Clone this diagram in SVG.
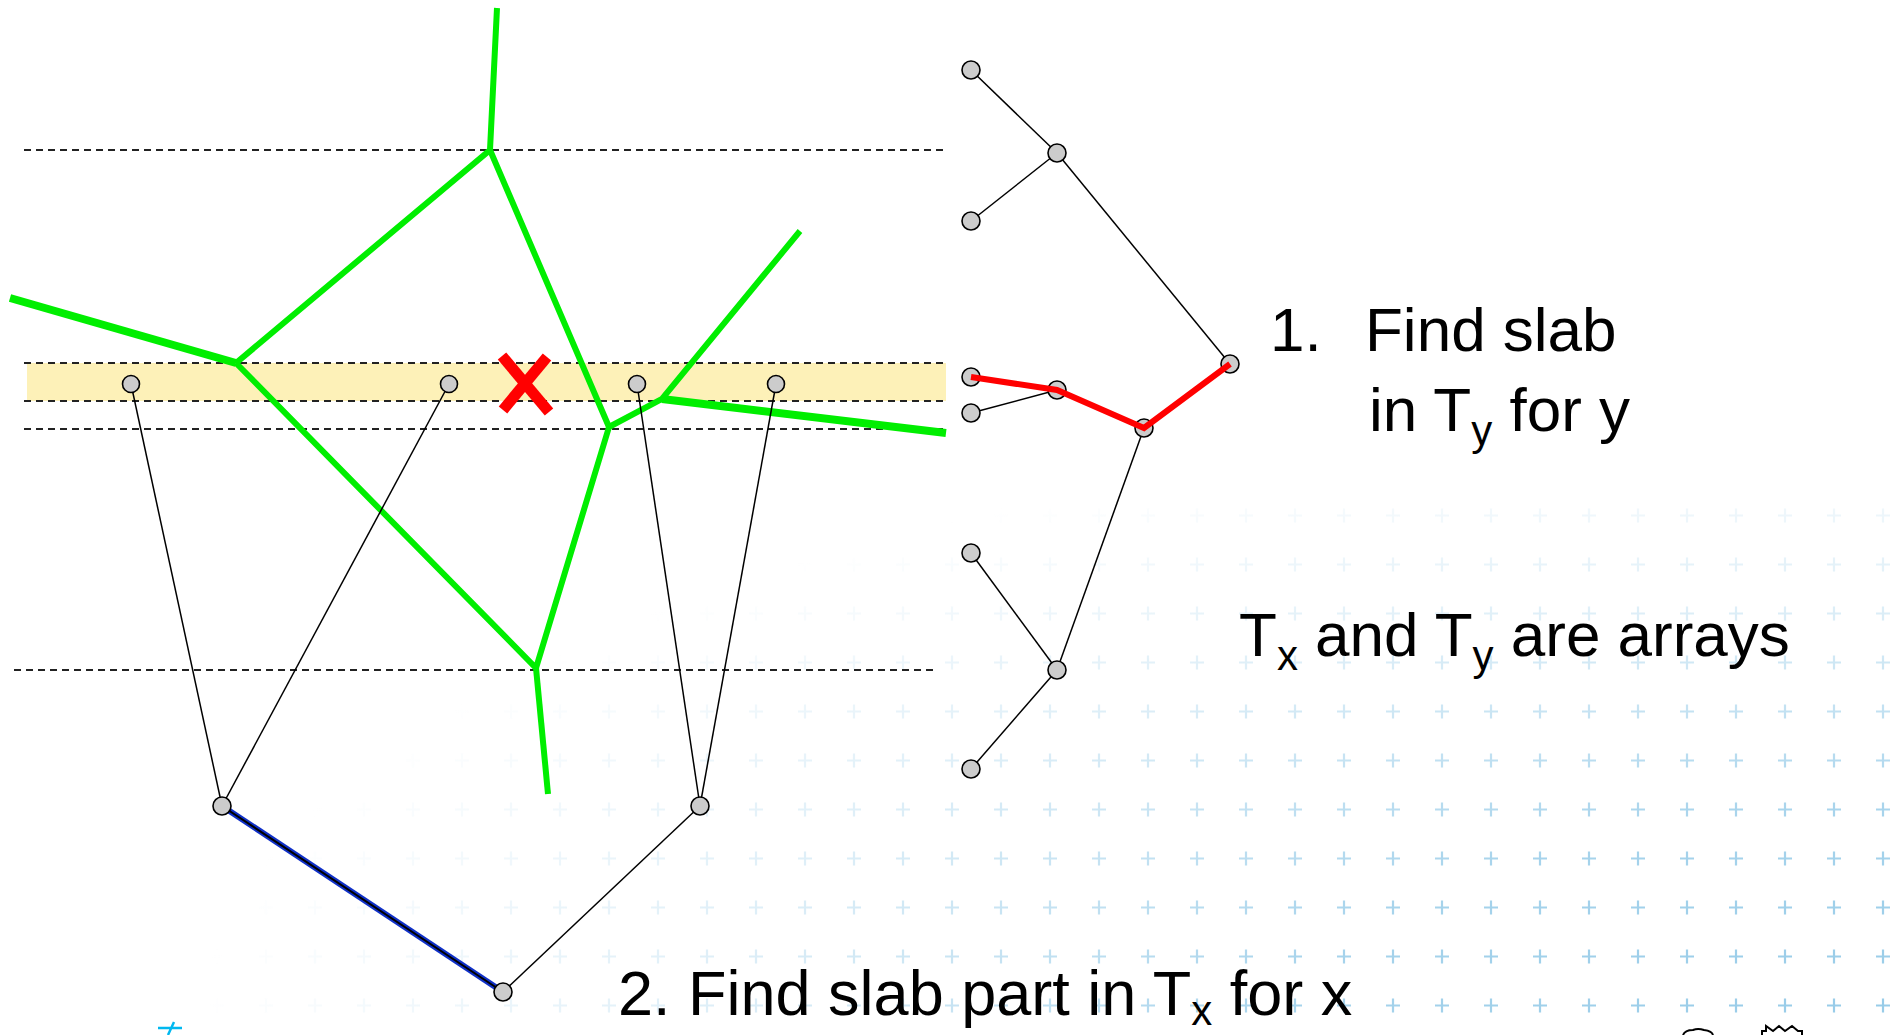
<svg xmlns="http://www.w3.org/2000/svg" width="1897" height="1035" viewBox="0 0 1897 1035">
  <style>
    .dash { stroke: #222; stroke-width: 2; stroke-dasharray: 7 5; fill: none; }
    .vor { stroke: #00ee00; stroke-width: 6; fill: none; stroke-linecap: butt; stroke-linejoin: miter; }
    .vor-thick { stroke: #00ee00; stroke-width: 8; fill: none; }
    .edge { stroke: #000; stroke-width: 1.5; fill: none; }
    .node { fill: #cccccc; stroke: #000; stroke-width: 1.6; }
    .label { font-family: "Liberation Sans", Arial, sans-serif; font-size: 62px; fill: #000; }
    .sub { font-size: 42px; }
  </style>
  <defs>
    <pattern id="plus" x="1589" y="1005.5" width="49" height="49" patternUnits="userSpaceOnUse">
      <path d="M-7 0 H7 M0 -7 V7 M42 0 H56 M49 -7 V7 M-7 49 H7 M0 42 V56 M42 49 H56 M49 42 V56" stroke="#96cbe8" stroke-width="2.2"/>
    </pattern>
    <radialGradient id="fade">
      <stop offset="0" stop-color="#fff"/>
      <stop offset="0.35" stop-color="#d8d8d8"/>
      <stop offset="0.7" stop-color="#505050"/>
      <stop offset="1" stop-color="#000"/>
    </radialGradient>
    <mask id="fadeMask" maskUnits="userSpaceOnUse" x="0" y="0" width="1897" height="1035">
      <ellipse cx="1897" cy="1035" rx="1700" ry="620" fill="url(#fade)"/>
    </mask>
  </defs>

  <rect width="1897" height="1035" fill="#fff"/>
  <g id="background">
    <rect x="0" y="480" width="1897" height="555" fill="url(#plus)" mask="url(#fadeMask)"/>
    <path d="M158 1028 H182 M174 1022 L168 1035" stroke="#00b8f0" stroke-width="2.5" fill="none"/>
    <path d="M1683 1035 Q1685 1030 1693 1030 Q1698 1028 1704 1030 Q1712 1031 1713 1035" stroke="#000" stroke-width="2" fill="none"/>
    <path d="M1762 1035 V1031 H1766 V1026 L1773 1031 L1779 1026 L1785 1031 L1792 1026 L1798 1031 H1802 V1035" stroke="#000" stroke-width="2" fill="none"/>
  </g>

  <g id="slab">
    <rect x="27" y="363" width="919" height="38" fill="#fdf1b8"/>
  </g>

  <g id="sweep-lines">
    <line class="dash" x1="24" y1="150" x2="943" y2="150"/>
    <line class="dash" x1="24" y1="363" x2="946" y2="363"/>
    <line class="dash" x1="24" y1="401" x2="946" y2="401"/>
    <line class="dash" x1="24" y1="429" x2="943" y2="429"/>
    <line class="dash" x1="14" y1="670" x2="934" y2="670"/>
  </g>

  <g id="voronoi">
    <polyline class="vor" points="497,8 490,150 236,363"/>
    <line class="vor-thick" x1="10" y1="298" x2="236" y2="363"/>
    <polyline class="vor" points="490,150 609,427 662,399 800,231"/>
    <line class="vor-thick" x1="662" y1="399" x2="946" y2="433"/>
    <polyline class="vor" points="236,363 536,668 609,427"/>
    <line class="vor" x1="536" y1="668" x2="548" y2="794"/>
  </g>

  <g id="query-point">
    <line x1="502" y1="356" x2="549" y2="412" stroke="#ff0000" stroke-width="11"/>
    <line x1="547" y1="357" x2="503" y2="410" stroke="#ff0000" stroke-width="11"/>
  </g>

  <g id="connectors">
    <line class="edge" x1="131" y1="384" x2="222" y2="806"/>
    <line class="edge" x1="449" y1="384" x2="222" y2="806"/>
    <line class="edge" x1="637" y1="384" x2="700" y2="806"/>
    <line class="edge" x1="776" y1="384" x2="700" y2="806"/>
    <line x1="222" y1="806" x2="503" y2="992" stroke="#1030c8" stroke-width="6"/>
    <line x1="222" y1="806" x2="503" y2="992" stroke="#000" stroke-width="2"/>
    <line class="edge" x1="700" y1="806" x2="503" y2="992"/>
    <line class="edge" x1="971" y1="70" x2="1057" y2="153"/>
    <line class="edge" x1="971" y1="221" x2="1057" y2="153"/>
    <line class="edge" x1="1057" y1="153" x2="1230" y2="364"/>
    <line class="edge" x1="971" y1="413" x2="1057" y2="390"/>
    <line class="edge" x1="971" y1="553" x2="1057" y2="670"/>
    <line class="edge" x1="971" y1="769" x2="1057" y2="670"/>
    <line class="edge" x1="1057" y1="670" x2="1144" y2="428"/>
  </g>

  <g id="tx-a"><circle class="node" cx="131" cy="384" r="8.5"/></g>
  <g id="tx-b"><circle class="node" cx="449" cy="384" r="8.5"/></g>
  <g id="tx-c"><circle class="node" cx="637" cy="384" r="8.5"/></g>
  <g id="tx-d"><circle class="node" cx="776" cy="384" r="8.5"/></g>
  <g id="tx-e"><circle class="node" cx="222" cy="806" r="9"/></g>
  <g id="tx-f"><circle class="node" cx="700" cy="806" r="9"/></g>
  <g id="tx-g"><circle class="node" cx="503" cy="992" r="9"/></g>

  <g id="ty-l1"><circle class="node" cx="971" cy="70" r="9"/></g>
  <g id="ty-m1"><circle class="node" cx="1057" cy="153" r="9"/></g>
  <g id="ty-l2"><circle class="node" cx="971" cy="221" r="9"/></g>
  <g id="ty-l3"><circle class="node" cx="971" cy="377" r="9"/></g>
  <g id="ty-m2"><circle class="node" cx="1057" cy="390" r="9"/></g>
  <g id="ty-l4"><circle class="node" cx="971" cy="413" r="9"/></g>
  <g id="ty-r"><circle class="node" cx="1144" cy="428" r="9"/></g>
  <g id="ty-root"><circle class="node" cx="1230" cy="364" r="9"/></g>
  <g id="ty-l5"><circle class="node" cx="971" cy="553" r="9"/></g>
  <g id="ty-m3"><circle class="node" cx="1057" cy="670" r="9"/></g>
  <g id="ty-l6"><circle class="node" cx="971" cy="769" r="9"/></g>

  <g id="search-path">
    <polyline points="971,377 1057,390 1144,428 1230,364" fill="none" stroke="#ff0000" stroke-width="6" stroke-linejoin="miter"/>
  </g>

  <g id="labels">
    <text class="label" x="1270" y="351">1.</text>
    <text class="label" x="1365" y="351">Find slab</text>
    <text class="label" x="1369" y="431">in T<tspan class="sub" dy="14">y</tspan><tspan dy="-14"> for y</tspan></text>
    <text class="label" x="1239" y="656">T<tspan class="sub" dy="14">x</tspan><tspan dy="-14"> and T</tspan><tspan class="sub" dy="14">y</tspan><tspan dy="-14"> are arrays</tspan></text>
    <text class="label" x="618" y="1015" style="font-size:63px">2. Find slab part in T<tspan class="sub" dy="10">x</tspan><tspan dy="-10"> for x</tspan></text>
  </g>
</svg>
